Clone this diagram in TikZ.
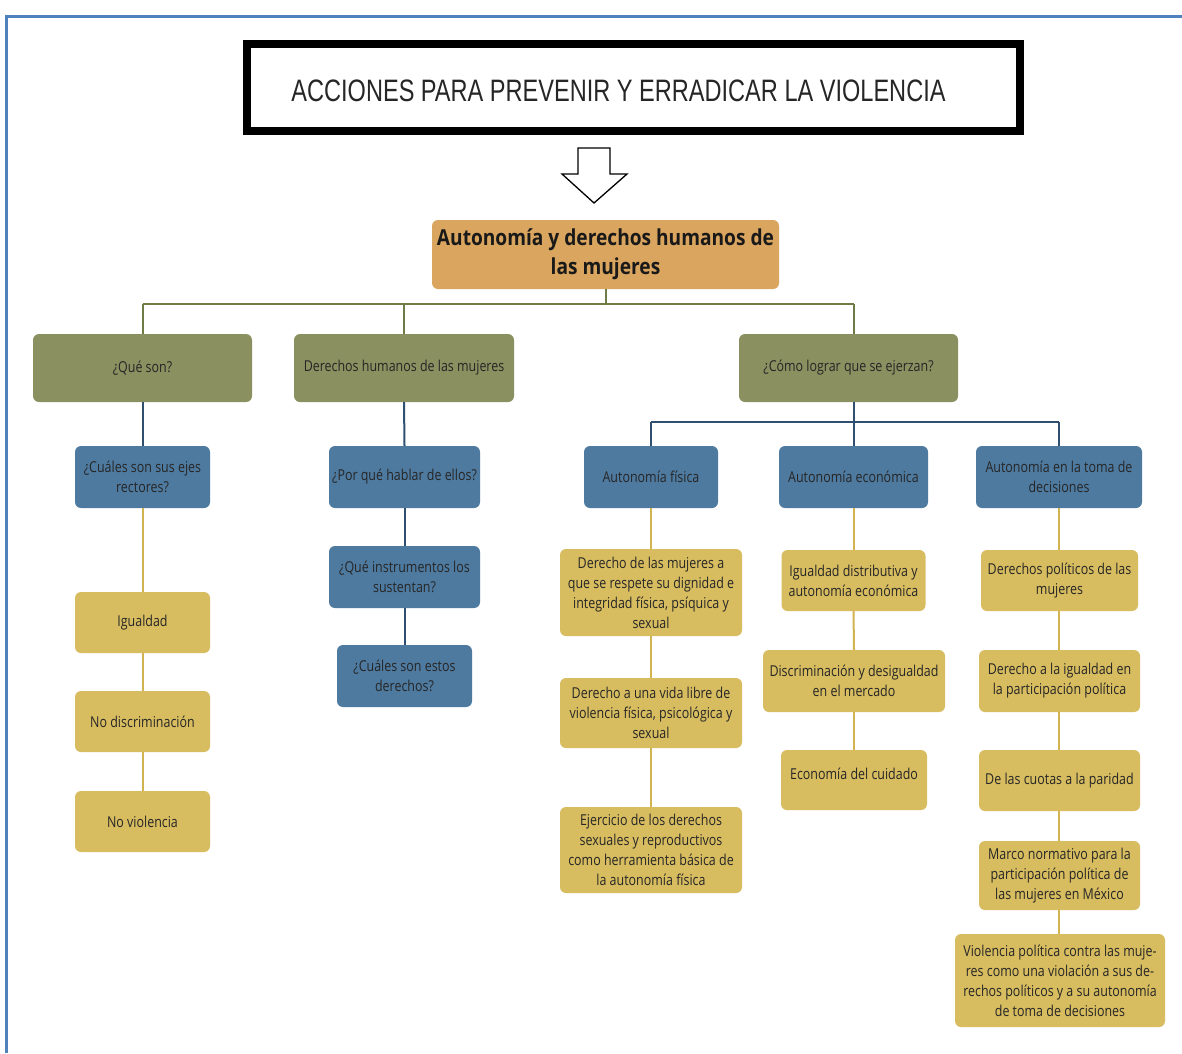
\documentclass[tikz,border=0pt]{standalone}
\usepackage{fontspec}
\newfontfamily\boxfont{Open Sans}[FakeStretch=0.83]
\newfontfamily\mainfont{Open Sans}[FakeStretch=0.87]
\newfontfamily\titlefont{Liberation Sans}[FakeStretch=0.76]
\definecolor{frameblue}{HTML}{4F81BD}
\definecolor{gfill}{HTML}{8A9060}
\definecolor{bfill}{HTML}{4E7AA0}
\definecolor{yfill}{HTML}{D8BD60}
\definecolor{ofill}{HTML}{DAA55F}
\definecolor{gline}{HTML}{6F7B45}
\definecolor{bline}{HTML}{2F4F70}
\definecolor{yline}{HTML}{D2B352}
\definecolor{txt}{HTML}{262626}
\tikzset{
  nbox/.style={rounded corners=6pt, inner sep=2pt, align=center, text=txt,
    font=\boxfont\fontsize{15}{20}\selectfont},
  gbox/.style={nbox, fill=gfill},
  bbox/.style={nbox, fill=bfill},
  ybox/.style={nbox, fill=yfill},
  gcon/.style={draw=gline, line width=2pt},
  bcon/.style={draw=bline, line width=2pt},
  ycon/.style={draw=yline, line width=2pt},
}
\begin{document}
\begin{tikzpicture}[x=1pt, y=-1pt]
\useasboundingbox (0,0) rectangle (1182,1053);
\fill[white] (0,0) rectangle (1182,1053);
% frame
\draw[frameblue, line width=3pt] (6,1053) -- (6,16) -- (1182,16);
% title
\node[draw=black, line width=8pt, minimum width=773pt, minimum height=87pt, inner sep=0pt] (title) at (633.5,87.5) {};
\node[text=txt, font=\titlefont\fontsize{31}{34}\selectfont, inner sep=0pt] (titletext) at (618.5,91)
  {ACCIONES PARA PREVENIR Y ERRADICAR LA VIOLENCIA};
% hollow arrow
\draw[line width=1.3pt, fill=white, line join=miter]
  (578,148) -- (610,148) -- (610,174) -- (627,174) -- (594,203) -- (562,174) -- (578,174) -- cycle;
% main node
\node[nbox, fill=ofill, minimum width=347pt, minimum height=69pt,
  font=\mainfont\bfseries\fontsize{22}{29}\selectfont, text=black!90] (main) at (605.5,254.5)
  {Autonomía y derechos humanos de\\las mujeres};
% level 1
\node[gbox, minimum width=219pt, minimum height=68pt] (qs) at (142.5,368) {¿Qué son?};
\node[gbox, minimum width=220pt, minimum height=68pt] (dh) at (404,368) {Derechos humanos de las mujeres};
\node[gbox, minimum width=219pt, minimum height=68pt] (cl) at (848.5,368) {¿Cómo lograr que se ejerzan?};
% level 2 blue
\node[bbox, minimum width=135pt, minimum height=62pt] (ejes) at (142.5,477) {¿Cuáles son sus ejes\\rectores?};
\node[bbox, minimum width=151pt, minimum height=62pt] (porq) at (404.5,477) {¿Por qué hablar de ellos?};
\node[bbox, minimum width=151pt, minimum height=62pt] (inst) at (404.5,577) {¿Qué instrumentos los\\sustentan?};
\node[bbox, minimum width=135pt, minimum height=62pt] (cual) at (404.5,676) {¿Cuáles son estos\\derechos?};
\node[bbox, minimum width=134pt, minimum height=62pt] (fis) at (651,477) {Autonomía física};
\node[bbox, minimum width=149pt, minimum height=62pt] (eco) at (853.5,477) {Autonomía económica};
\node[bbox, minimum width=166pt, minimum height=62pt] (tom) at (1059,477) {Autonomía en la toma de\\decisiones};
% left yellow
\node[ybox, minimum width=135pt, minimum height=61pt] (ig) at (142.5,622.5) {Igualdad};
\node[ybox, minimum width=135pt, minimum height=61pt] (nd) at (142.5,721.5) {No discriminación};
\node[ybox, minimum width=135pt, minimum height=61pt] (nv) at (142.5,821.5) {No violencia};
% fisica column
\node[ybox, minimum width=182pt, minimum height=87pt] (f1) at (651,592.5)
  {Derecho de las mujeres a\\que se respete su dignidad e\\integridad física, psíquica y\\sexual};
\node[ybox, minimum width=182pt, minimum height=70pt] (f2) at (651,713)
  {Derecho a una vida libre de\\violencia física, psicológica y\\sexual};
\node[ybox, minimum width=182pt, minimum height=86pt] (f3) at (651,850)
  {Ejercicio de los derechos\\sexuales y reproductivos\\como herramienta básica de\\la autonomía física};
% economica column
\node[ybox, minimum width=144pt, minimum height=61pt] (e1) at (853.5,580.5)
  {Igualdad distributiva y\\autonomía económica};
\node[ybox, minimum width=182pt, minimum height=62pt] (e2) at (854,681)
  {Discriminación y desigualdad\\en el mercado};
\node[ybox, minimum width=146pt, minimum height=60pt, text depth=12pt] (e3) at (854,780)
  {Economía del cuidado};
% toma column
\node[ybox, minimum width=157pt, minimum height=61pt] (t1) at (1059.5,580.5)
  {Derechos políticos de las\\mujeres};
\node[ybox, minimum width=161pt, minimum height=62pt] (t2) at (1059.5,681)
  {Derecho a la igualdad en\\la participación política};
\node[ybox, minimum width=161pt, minimum height=61pt] (t3) at (1059.5,780.5)
  {De las cuotas a la paridad};
\node[ybox, minimum width=161pt, minimum height=69pt] (t4) at (1059.5,875.5)
  {Marco normativo para la\\participación política de\\las mujeres en México};
\node[ybox, minimum width=210pt, minimum height=93pt] (t5) at (1060,980.5)
  {Violencia política contra las muje-\\res como una violación a sus de-\\rechos políticos y a su autonomía\\de toma de decisiones};
% connectors level 0-1
\coordinate (hubA) at (605.5,304);
\coordinate (hubL) at (142.5,304);
\coordinate (hubR) at (854,304);
\draw[gcon] (main.south) -- (hubA);
\draw[gcon] (hubL) -- (hubR);
\draw[gcon] (hubL) -- (qs.north);
\draw[gcon] (dh.north |- hubA) -- (dh.north);
\draw[gcon] (hubR) -- (hubR |- cl.north);
% blue connectors
\draw[bcon] (qs.south) -- (ejes.north);
\draw[bcon] (dh.south) -- (porq.north);
\draw[bcon] (porq.south) -- (inst.north);
\draw[bcon] (inst.south) -- (cual.north);
\coordinate (hubB) at (854,422);
\draw[bcon] (hubR |- cl.south) -- (hubB);
\draw[bcon] (fis.north |- hubB) -- (tom.north |- hubB);
\draw[bcon] (fis.north |- hubB) -- (fis.north);
\draw[bcon] (hubB) -- (hubB |- eco.north);
\draw[bcon] (tom.north |- hubB) -- (tom.north);
% yellow connectors
\draw[ycon] (ejes.south) -- (ig.north);
\draw[ycon] (ig.south) -- (nd.north);
\draw[ycon] (nd.south) -- (nv.north);
\draw[ycon] (fis.south) -- (f1.north);
\draw[ycon] (f1.south) -- (f2.north);
\draw[ycon] (f2.south) -- (f3.north);
\draw[ycon] (eco.south) -- (eco.south |- e1.north);
\draw[ycon] (e1.south -| eco.south) -- (e2.north);
\draw[ycon] (e2.south) -- (e3.north);
\draw[ycon] (tom.south) -- (tom.south |- t1.north);
\draw[ycon] (t1.south -| tom.south) -- (tom.south |- t2.north);
\draw[ycon] (t2.south -| tom.south) -- (tom.south |- t3.north);
\draw[ycon] (t3.south -| tom.south) -- (tom.south |- t4.north);
\draw[ycon] (t4.south -| tom.south) -- (tom.south |- t5.north);
\end{tikzpicture}
\end{document}
